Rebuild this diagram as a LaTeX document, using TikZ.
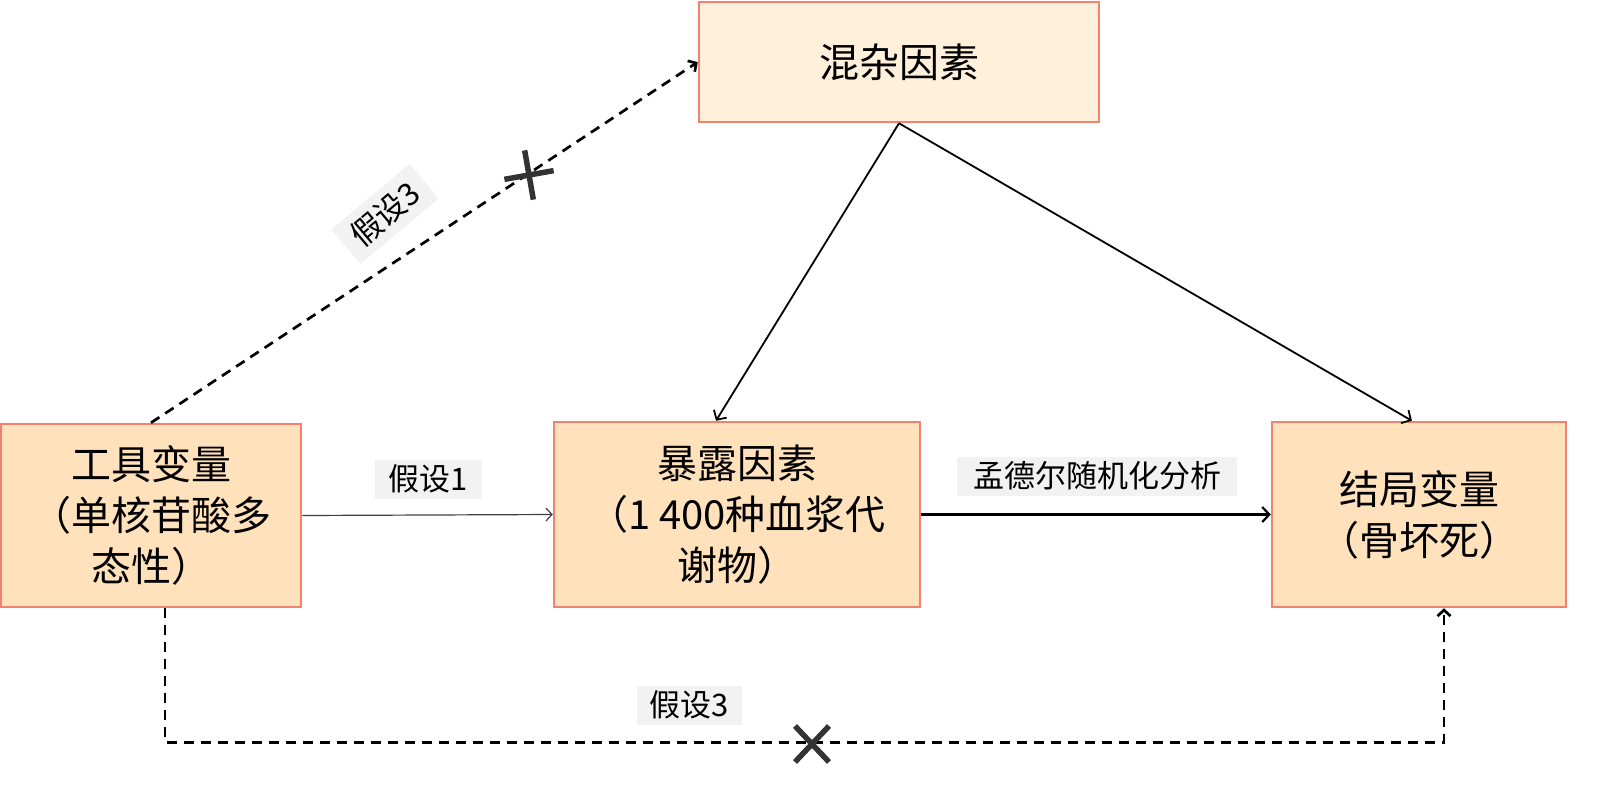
\documentclass[tikz,border=0pt]{standalone}
\usepackage{fontspec}
\setmainfont{Noto Sans CJK SC}
\usetikzlibrary{arrows.meta,calc}
\definecolor{boxfill}{HTML}{FFE2BB}
\definecolor{topfill}{HTML}{FFF0DC}
\definecolor{boxline}{HTML}{F0826E}
\definecolor{lblfill}{HTML}{F2F2F2}
\definecolor{crossc}{HTML}{333333}
\begin{document}
\begin{tikzpicture}[x=1pt,y=-1pt,
  box/.style={draw=boxline,line width=2.5pt,fill=boxfill,align=center,
    font=\fontsize{40}{51}\selectfont,inner sep=0pt},
  lbl/.style={fill=lblfill,font=\fontsize{31}{36}\selectfont,inner sep=0pt,minimum height=39pt},
  arr/.style={line width=1.8pt,-{Straight Barb[length=7pt,width=15pt]}},
  dsh/.style={line width=2.7pt,dash pattern=on 10pt off 7pt,-{Straight Barb[length=6pt,width=13pt]}},
  xmark/.style={line width=5.5pt,crossc}]
\useasboundingbox (0,0) rectangle (1600,785);
\fill[white] (0,0) rectangle (1600,785);

\node[box,fill=topfill,minimum width=400pt,minimum height=120pt] (conf) at (899,62) {混杂因素};
\node[box,minimum width=300pt,minimum height=183pt] (iv) at (151,515.5) {工具变量\\（单核苷酸多\\态性）};
\node[box,minimum width=366pt,minimum height=185pt] (mid) at (737,514.5) {暴露因素\\（1 400种血浆代\\谢物）};
\node[box,minimum width=294pt,minimum height=185pt] (out) at (1419,514.5) {结局变量\\（骨坏死）};

\node[lbl,minimum width=107pt] (h1) at (428,479) {假设1};
\node[lbl,minimum width=280pt] (mr) at (1097,476) {孟德尔随机化分析};
\node[lbl,minimum width=105pt] (h3b) at (689,705) {假设3};
\node[lbl,minimum width=102pt,minimum height=45pt,rotate=40] (h3a) at (385,214) {假设3};

% solid arrows
\draw[arr] (conf.south) -- ($(mid.north west)!0.443!(mid.north east)$);
\draw[arr] (conf.south) -- ($(out.north west)!0.476!(out.north east)$);
\draw[line width=1.2pt,black!75,-{Straight Barb[length=6pt,width=13pt]}] (iv.east) -- (mid.west);
\draw[line width=2.2pt,-{Straight Barb[length=7pt,width=15pt]}] (mid.east) -- (out.west);

% dashed arrows
\draw[dsh] (iv.north) -- (conf.west);
\draw[dsh] ([xshift=14pt]iv.south) -- ++(0,134) -| ([xshift=25pt]out.south);

% crosses
\coordinate (c1) at (529,175);
\coordinate (c2) at (812,744);
\draw[xmark,shift={(c1)},rotate=10] (-25,0) -- (25,0) (0,-25) -- (0,25);
\draw[xmark,shift={(c2)}] (-17,-18) -- (17,18) (-17,18) -- (17,-18);
\end{tikzpicture}
\end{document}
